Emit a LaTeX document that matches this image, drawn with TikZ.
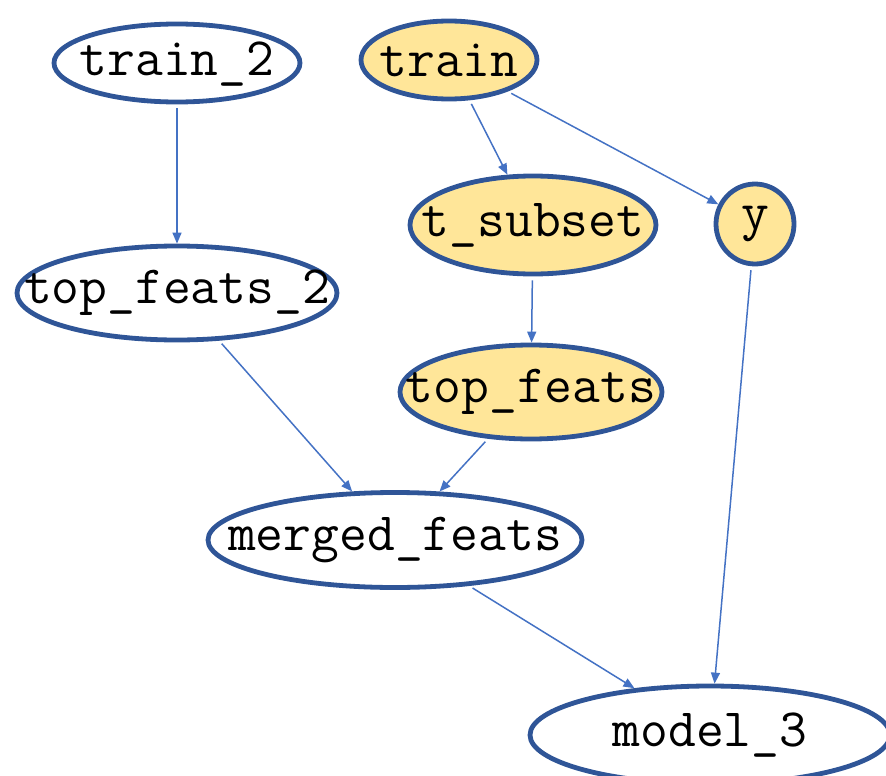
\documentclass[tikz,border=0pt]{standalone}
\usepackage{fontspec}
\usetikzlibrary{shapes.geometric,arrows.meta}
\definecolor{rim}{RGB}{47,85,151}
\definecolor{goldfill}{RGB}{255,230,153}
\definecolor{wire}{RGB}{68,114,196}
\tikzset{
  ell/.style={ellipse, draw=rim, line width=4.8pt, fill=white, inner sep=0pt},
  hot/.style={ell, fill=goldfill},
  lbl/.style={inner sep=0pt, font=\fontsize{54}{60}\selectfont\ttfamily},
  link/.style={draw=wire, line width=1.5pt, -{Triangle[length=11pt,width=9pt]}, shorten <=4pt}
}
\begin{document}
\begin{tikzpicture}[x=1pt,y=-1pt]
\useasboundingbox (0,0) rectangle (886,776);
% node outlines
\node[ell, minimum width=246pt, minimum height=78pt] (train2) at (177,63) {};
\node[hot, minimum width=176pt, minimum height=78pt] (train) at (449,60) {};
\node[hot, minimum width=246pt, minimum height=98pt] (tsub) at (533,225) {};
\node[hot, minimum width=78pt, minimum height=80pt] (y) at (755,224) {};
\node[ell, minimum width=320pt, minimum height=94pt] (tf2) at (177,293) {};
\node[hot, minimum width=262pt, minimum height=94pt] (tf) at (531,392) {};
\node[ell, minimum width=374pt, minimum height=95pt] (merged) at (395,540) {};
\node[ell, minimum width=360pt, minimum height=98pt] (model) at (710,735) {};
% labels
\node[lbl] (train2t) at (177,64) {train\_2};
\node[lbl] (traint) at (train) {train};
\node[lbl] (tsubt) at (tsub) {t\_subset};
\node[lbl] (yt) at (y) {y};
\node[lbl] (tf2t) at (tf2) {top\_feats\_2};
\node[lbl] (tft) at (tf) {top\_feats};
\node[lbl] (mergedt) at (merged) {merged\_feats};
\node[lbl] (modelt) at (model) {model\_3};
% dependencies
\draw[link] (train2) -- (tf2);
\draw[link] (train) -- (tsub);
\draw[link] (train) -- (y);
\draw[link] (tsub) -- (tf);
\draw[link] (tf2) -- (merged);
\draw[link] (tf) -- (merged);
\draw[link] (merged) -- (model);
\draw[link] (y) -- (model);
\end{tikzpicture}
\end{document}
